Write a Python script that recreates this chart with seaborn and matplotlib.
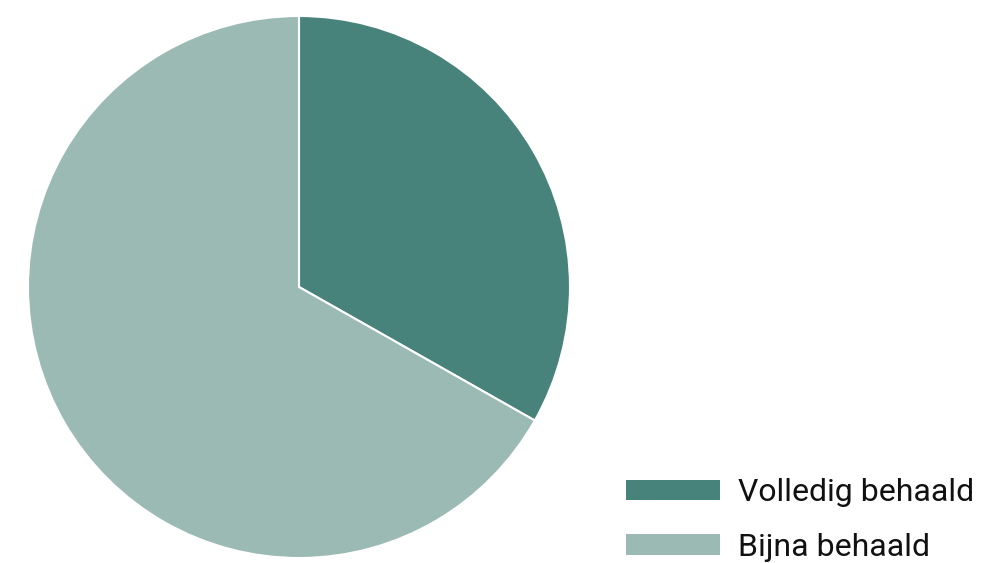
import matplotlib.pyplot as plt
import seaborn as sns
from matplotlib.patches import Patch

labels = ["Volledig behaald", "Bijna behaald"]
shares = [33.2, 66.8]
colors = ["#47837A", "#9BBAB4"]

sns.set_theme(style="white")
plt.rcParams['font.family'] = ['Roboto', 'DejaVu Sans']

fig = plt.figure(figsize=(9.89, 5.63), dpi=100)
W, H = 989, 563
cx, cy, r = 299, 287, 271
ax = fig.add_axes([(cx - r) / W, (H - cy - r) / H, 2 * r / W, 2 * r / H])

ax.pie(shares, colors=colors, startangle=90, counterclock=False,
       wedgeprops=dict(edgecolor="white", linewidth=1.5))
ax.set_xlim(-1, 1)
ax.set_ylim(-1, 1)
ax.set_aspect("equal")
ax.axis("off")

# legend swatches are wide flat bars, placed bottom right
handles = [Patch(facecolor=c, edgecolor="none") for c in colors]
fs = 23
px = fs / 0.72
leg = fig.legend(handles, labels, loc="lower left", bbox_to_anchor=(626 / W, 0.002),
                 frameon=False, fontsize=fs, labelcolor="#111111",
                 borderpad=0, borderaxespad=0,
                 handlelength=94 / px, handleheight=20 / px,
                 handletextpad=18 / px, labelspacing=0.8)

fig.savefig("out.png", dpi=100)
